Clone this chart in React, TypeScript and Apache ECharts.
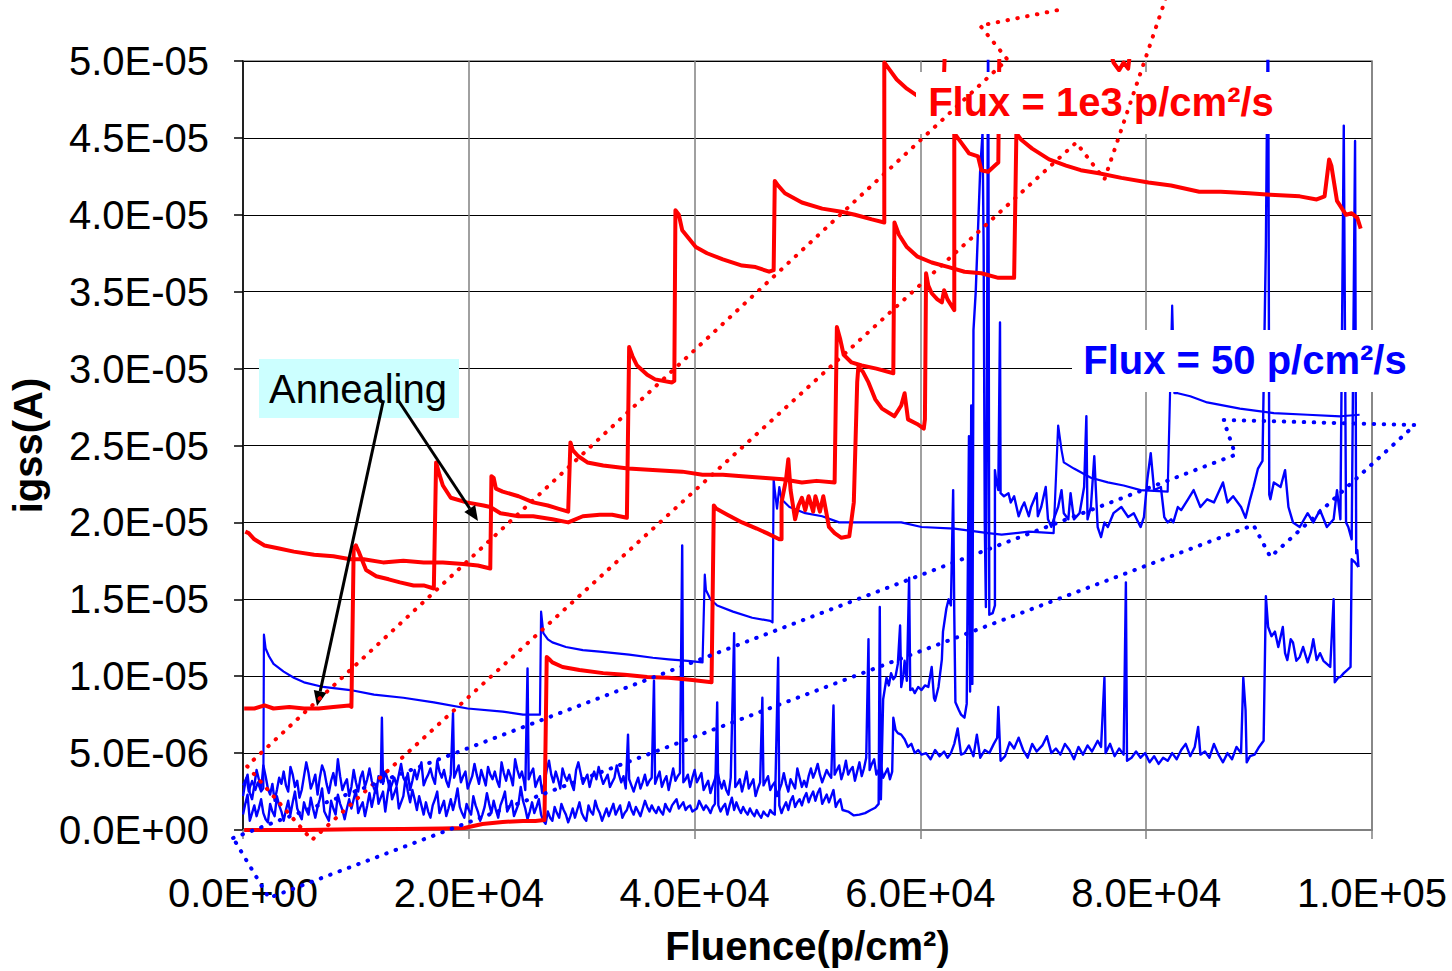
import React, { useEffect, useRef } from 'react';
import * as echarts from 'echarts';

// Units: fluence in 1e3 p/cm², current in 1e-6 A (formatted back to scientific notation on the axes)
const FONT = '"Liberation Sans", Arial, Helvetica, sans-serif';

// ---- Flux = 1e3 p/cm²/s devices (red) ----
const redA: number[][] = [
  [0.2,19.4],[0.5,19.3],[1.0,18.9],[1.9,18.5],[3.2,18.3],[4.5,18.1],[6.3,17.9],[8.0,17.8],[9.5,17.6],[10.7,17.6],[12.4,17.4],[14.2,17.5],[16.0,17.4],[17.7,17.4],[19.5,17.3],[20.8,17.2],[21.9,17.0],
  [22.0,23.0],[22.2,22.9],[22.4,22.2],[23.0,22.0],[24.4,21.7],[25.7,21.3],[27.0,21.1],[27.9,20.9],[28.8,20.7],
  [29.0,25.2],[29.2,24.7],[29.7,24.3],[30.5,23.9],[31.9,23.7],[34.1,23.5],[36.3,23.4],[38.9,23.3],[40.7,23.1],[42.5,23.1],[44.2,23.0],[46.0,22.9],[47.8,22.8],[49.5,22.6],[50.8,22.7],[52.4,22.6],
  [52.6,32.7],[52.9,31.9],[53.2,30.9],[53.9,30.4],[54.8,30.2],[56.1,30.0],[57.6,29.7],
  [57.7,39.5],[58.1,38.7],[58.8,37.9],[59.7,37.3],[61.0,36.9],[62.5,36.6],[63.9,36.3],[65.4,36.2],[66.9,35.9],[68.3,35.9],
  [68.5,45.3],[68.9,44.9],[69.9,44.3],[71.4,43.6],[72.9,43.2],[74.2,42.9],[75.8,42.7],[77.8,42.4],[80.2,42.1],[82.2,41.9],[84.7,41.5],[86.6,41.5],[89.1,41.4],[91.0,41.3],[93.6,41.2],[95.1,41.0],[95.8,41.2],[96.2,43.6],[96.4,43.2],[96.9,40.9],[97.7,40.0],[98.2,40.1],[98.7,39.8],[99.0,39.1]
];

const redB: number[][] = [
  [0.1,0.0],[5.4,0.0],[9.8,0.05],[14.2,0.07],[17.7,0.1],[19.6,0.13],[20.4,0.26],[21.2,0.39],[23.0,0.52],[24.8,0.59],[25.9,0.59],[26.7,0.65],
  [26.9,11.25],[27.2,11.05],[27.4,10.9],[28.3,10.6],[29.8,10.4],[31.9,10.2],[33.8,10.1],[35.8,9.95],[37.7,9.9],[39.8,9.75],[41.5,9.6],
  [41.7,21.1],[41.9,20.9],[42.9,20.5],[44.2,20.0],[45.5,19.6],[46.4,19.3],[47.5,18.9],[47.7,18.9],
  [47.7,21.3],[48.1,22.8],[48.3,24.1],[48.5,22.1],[48.9,20.2],[49.2,21.1],[49.5,21.6],[49.8,20.8],[50.1,21.7],[50.5,20.7],[50.7,21.7],[51.1,20.7],[51.4,21.7],[51.9,19.7],[52.4,19.3],[53.0,19.0],[53.7,19.1],[54.1,21.3],
  [54.4,29.1],[54.5,30.1],[54.9,29.8],[55.4,29.1],[56.0,28.0],[56.6,27.4],[57.7,26.9],[58.3,27.6],[58.6,28.4],[58.9,26.7],[59.7,26.4],[60.3,26.1],[60.4,26.7],
  [60.5,36.2],[60.7,35.4],[61.0,34.9],[61.5,34.5],[61.9,34.3],[62.1,35.1],[62.4,34.5],[63.0,33.8],
  [63.0,45.3],[63.4,44.9],[64.3,44.0],[65.1,43.8],[65.4,42.9],[66.0,42.8],[66.6,43.2],[66.9,43.4],
  [67.0,51.4],[71.6,53.0],[75.9,52.7]
];

const redC: number[][] = [
  [0.1,7.9],[1.0,7.9],[1.9,8.1],[2.7,7.9],[4.1,8.0],[5.4,7.9],[6.7,7.9],[8.0,8.0],[9.4,8.1],[9.6,8.0],
  [9.8,18.3],[10.0,18.5],[10.3,18.0],[10.9,16.9],[11.8,16.5],[12.9,16.3],[13.9,16.1],[15.1,15.9],[16.0,15.9],[16.9,15.7],
  [17.1,23.9],[17.4,23.1],[17.7,22.4],[18.4,21.6],[19.8,21.3],[21.3,21.1],[21.9,21.0],[22.8,20.6],[24.4,20.4],[25.7,20.4],[27.4,20.2],[28.8,20.0],[30.1,20.4],[31.6,20.5],[32.7,20.5],[34.0,20.3],
  [34.2,31.4],[34.5,30.8],[34.9,30.2],[35.8,29.6],[36.5,29.3],[38.0,29.1],[38.2,29.2],
  [38.3,40.3],[38.6,40.0],[38.9,39.0],[40.1,37.9],[41.1,37.5],[42.5,37.1],[44.2,36.7],[45.4,36.6],[46.6,36.3],[47.0,36.4],
  [47.1,42.2],[47.4,41.9],[48.0,41.4],[49.5,40.8],[51.3,40.4],[53.0,40.2],[54.2,40.0],[55.7,39.7],[56.8,39.5],
  [56.8,49.9],[57.2,49.5],[57.9,48.8],[58.8,48.2],[59.8,47.7],[61.0,47.3],[62.0,47.1],
  [62.2,51.4],[67.2,52.7],[76.4,52.0],[77.1,49.9],[77.6,49.4],[78.0,49.9],[78.4,49.5],[78.7,51.4],[84.8,52.7],[99.0,53.0]
];

// ---- Flux = 50 p/cm²/s devices (blue) ----
const blueA: number[][] = [
  [0.0,2.9],[0.3,3.4],[0.5,2.5],[0.8,3.2],[1.1,2.6],[1.3,3.1],[1.6,2.5],[1.8,2.7],
  [1.85,12.7],[2.0,11.8],[2.3,11.3],[2.7,10.8],[3.6,10.3],[4.5,9.9],[5.4,9.6],[7.1,9.3],[9.5,9.1],[11.6,8.8],[14.2,8.6],[16.9,8.3],[19.9,7.9],[23.0,7.7],[24.8,7.5],[26.3,7.5],
  [26.4,14.2],[26.6,12.8],[27.0,12.4],[27.4,12.2],[28.6,11.9],[30.1,11.7],[31.6,11.6],[34.2,11.4],[36.3,11.2],[37.7,11.1],[39.4,11.0],[40.7,10.9],
  [40.9,16.6],[41.0,15.6],[41.4,15.0],[42.0,14.6],[43.4,14.2],[45.1,13.8],[46.7,13.6],[46.9,13.5],
  [47.0,22.8],[47.1,22.1],[47.3,20.9],[47.5,22.3],[47.7,21.5],[48.4,21.0],[49.8,20.6],[51.3,20.4],[52.8,20.0],[54.2,20.0],[57.2,20.0],[58.3,20.0],[60.1,19.7],[63.0,19.6],[66.0,19.3],[67.2,19.2],[69.6,19.4],[71.8,19.3],
  [72.2,26.3],[72.5,24.7],[72.7,23.9],[73.6,23.5],[75.1,22.9],[76.6,22.6],[78.0,22.4],[79.5,22.1],[81.9,22.0],
  [82.3,34.1],[82.5,28.4],[82.8,28.4],[83.9,28.2],[85.4,27.8],[88.3,27.4],[91.3,27.1],[94.3,27.0],[97.2,26.9],[98.9,27.0]
];

const blueB: number[][] = [
  [0,2.2],[0.2,3.1],[0.4,3.6],[0.6,2.4],[0.8,2.0],[1.0,2.9],[1.2,3.9],[1.4,3.3],[1.6,2.6],[1.8,4.2],[2.0,3.5],[2.2,2.7],[2.4,2.3],[2.6,3.0],[2.8,1.9],[3.0,2.6],[3.2,3.4],[3.4,3.0],[3.6,3.8],[3.8,2.9],
  [4.0,2.5],[4.2,4.1],[4.4,3.6],[4.6,2.8],[4.8,3.2],[5.0,2.1],[5.2,2.6],[5.4,3.5],[5.6,4.4],[5.8,3.7],[6.0,2.7],[6.2,3.1],[6.4,3.6],[6.6,2.3],[6.8,3.4],[7.0,4.2],[7.2,3.8],[7.4,3.0],[7.6,2.4],[7.8,3.2],
  [8.0,3.7],[8.2,2.9],[8.4,4.6],[8.6,3.5],[8.8,2.6],[9.0,3.0],[9.2,3.3],[9.4,2.2],[9.6,2.8],[9.8,3.9],[10.0,3.1],[10.2,2.5],[10.4,3.4],[10.6,3.8],[10.8,2.8],[11.0,3.3],[11.2,4.0],[11.4,3.2],[11.6,2.7],[11.8,2.4],
  [12.0,3.5],[12.2,3.1],[12.3,7.3],[12.4,3.0],[12.6,3.8],[12.8,3.3],[13.0,2.6],[13.2,3.0],[13.4,3.4],[13.6,2.9],[13.8,3.6],[14.0,4.3],[14.2,3.4],[14.4,3.1],[14.6,3.7],[14.8,2.6],[15.0,3.2],[15.2,3.9],[15.4,3.3],[15.6,3.9],
  [15.8,4.4],[16.0,2.9],[16.2,3.3],[16.4,3.6],[16.6,4.0],[16.8,3.4],[17.0,3.0],[17.2,4.5],[17.4,3.8],[17.6,3.4],[17.8,3.9],[18.0,3.2],[18.2,2.8],[18.4,3.6],[18.6,7.6],[18.7,3.4],[18.9,3.8],[19.1,4.2],[19.3,3.1],[19.5,3.5],
  [19.7,3.8],[19.9,2.7],[20.1,3.1],[20.3,3.5],[20.5,4.3],[20.7,3.6],[20.9,3.0],[21.1,3.9],[21.3,3.4],[21.5,2.9],[21.7,4.1],[21.9,3.6],[22.1,3.3],[22.3,3.8],[22.5,3.2],[22.7,2.8],[22.9,4.4],[23.1,3.7],[23.3,3.2],[23.5,3.9],
  [23.7,3.5],[23.9,2.9],[24.1,4.6],[24.3,3.9],[24.5,3.4],[24.7,3.8],[24.9,3.1],[25.0,2.6],[25.2,10.5],[25.3,3.3],[25.5,3.7],[25.7,4.0],[25.9,2.8],[26.1,3.2],[26.3,3.5],[26.5,2.4],[26.7,3.1],[26.9,3.9],[27.1,4.5],[27.3,3.6],
  [27.5,3.1],[27.7,3.8],[27.9,3.3],[28.1,2.7],[28.3,4.0],[28.5,3.5],[28.7,3.2],[28.9,3.6],[29.1,3.0],[29.3,2.6],[29.5,3.9],[29.7,4.4],[29.9,3.7],[30.1,3.0],[30.3,3.3],[30.5,3.6],[30.7,2.8],[30.9,3.4],[31.1,3.8],[31.3,3.3],
  [31.5,4.1],[31.7,3.5],[31.9,3.0],[32.1,3.3],[32.3,3.6],[32.5,2.8],[32.7,3.1],[32.9,3.4],[33.1,4.2],[33.3,3.6],[33.5,3.1],[33.7,3.5],[33.9,2.7],[34.1,6.2],[34.2,3.3],[34.4,2.9],[34.6,2.5],[34.8,3.0],[35.0,3.4],[35.2,2.7],
  [35.4,3.1],[35.6,3.6],[35.8,2.9],[36.0,3.2],[36.2,3.4],[36.4,9.7],[36.5,3.0],[36.7,3.4],[36.9,3.8],[37.1,2.8],[37.3,3.2],[37.5,3.5],[37.7,2.6],[37.9,3.3],[38.1,4.0],[38.3,3.2],[38.5,3.5],[38.7,3.7],[38.9,18.5],[39.0,3.1],
  [39.2,3.3],[39.4,3.6],[39.6,2.8],[39.8,3.4],[40.0,3.9],[40.2,3.1],[40.4,3.4],[40.6,3.7],[40.8,2.6],[41.0,2.9],[41.2,3.2],[41.4,2.4],[41.6,2.9],[41.8,3.3],[42.0,3.9],[42.2,3.2],[42.4,2.7],[42.6,3.2],[42.8,2.6],[43.0,2.3],
  [43.2,3.4],[43.5,12.8],[43.6,2.8],[43.8,3.0],[44.0,3.3],[44.2,2.5],[44.4,3.1],[44.6,3.8],[44.8,2.7],[45.0,3.0],[45.2,3.3],[45.4,2.2],[45.6,2.7],[45.8,3.1],[46.0,8.6],[46.1,2.9],[46.3,3.2],[46.5,3.5],[46.7,2.6],[46.9,2.9],
  [47.1,3.1],[47.3,2.2],[47.5,2.6],[47.7,3.0],[47.9,3.7],[48.1,3.0],[48.3,2.5],[48.5,3.3],[48.7,3.0],[48.9,2.7],[49.1,4.0],[49.3,3.4],[49.5,2.8],[49.7,3.2],[49.9,2.8],[50.1,3.5],[50.3,4.0],[50.5,3.4],[50.7,3.8],[50.9,4.3],
  [51.1,3.6],[51.3,3.1],[51.5,3.5],[51.7,3.9],[51.9,3.6],[52.1,3.4],[52.3,8.1],[52.4,3.6],[52.6,3.9],[52.8,4.2],[53.0,3.3],[53.2,3.8],[53.4,4.5],[53.6,3.6],[53.8,3.9],[54.0,4.1],[54.2,3.2],[54.4,3.8],[54.6,4.4],[54.8,3.5],
  [55.0,4.0],[55.2,4.7],[55.4,12.4],[55.5,3.9],[55.7,4.3],[55.9,4.6],[56.1,3.6],[56.3,3.9],[56.5,4.2],[56.7,3.4],[56.9,3.7],[57.1,4.0],[57.3,3.3],[57.5,3.8],
  [57.6,7.3],[57.8,6.5],[58.0,6.3],[58.3,6.2],[58.6,5.9],[58.9,5.4],[59.2,5.6],[59.5,5.0],[59.8,5.2],[60.1,4.9],[60.5,5.0],[60.9,4.6],[61.3,5.2],[61.7,4.8],[62.1,5.1],[62.4,4.7],[62.7,5.0],[63.0,5.6],[63.3,6.6],[63.6,4.9],
  [63.9,5.0],[64.3,5.5],[64.7,4.8],[65.0,6.2],[65.3,4.7],[65.7,5.2],[66.1,5.0],[66.5,5.6],[66.8,6.0],[66.9,8.0],[67.1,4.5],[67.5,4.8],[67.9,5.7],[68.3,5.3],[68.7,6.0],[69.1,5.2],[69.5,4.7],[69.9,5.6],[70.3,5.1],[70.8,5.5],
  [71.2,6.1],[71.6,5.0],[72.0,5.3],[72.4,4.9],[72.8,5.6],[73.2,5.2],[73.6,4.6],[74.0,5.4],[74.4,4.9],[74.8,5.5],[75.2,5.1],[75.7,5.8],[76.0,5.4],[76.3,9.9],[76.4,5.0],[76.8,5.6],[77.2,4.8],[77.6,5.3],[78.0,4.9],[78.2,16.1],
  [78.3,4.5],[78.7,4.7],[79.1,5.1],[79.5,4.7],[79.9,5.0],[80.3,4.4],[80.7,4.8],[81.1,4.3],[81.5,4.7],[81.9,4.5],[82.3,5.0],[82.7,4.6],[83.1,5.2],[83.5,5.6],[83.9,4.8],[84.3,5.4],[84.6,6.7],[84.8,4.9],[85.2,5.1],[85.6,4.7],
  [86.0,5.6],[86.4,4.9],[86.8,4.4],[87.2,5.0],[87.6,4.6],[88.0,5.4],[88.4,5.0],[88.6,9.9],[88.8,7.8],[88.9,4.4],[89.2,4.8],[89.6,4.9],[90.0,5.4],[90.4,5.8],
  [90.6,15.2],[90.8,13.2],[91.1,12.6],[91.4,12.9],[91.7,11.9],[92.1,13.2],[92.3,11.5],[92.5,11.05],[92.8,12.4],[93.0,12.2],[93.3,11.0],[93.6,11.25],[93.9,11.9],[94.3,10.9],[94.6,11.6],[94.8,12.4],[95.1,11.05],[95.4,11.5],[95.7,11.0],[96.0,10.8],
  [96.3,10.6],[96.6,15.0],[96.7,9.6],[97.0,9.9],[97.2,9.95],[97.5,10.2],[97.8,10.4],[98.1,10.6],[98.2,17.6],[98.5,17.4],[98.8,17.1]
];

const blueC: number[][] = [
  [0,1.0],[0.2,1.7],[0.4,2.3],[0.6,0.6],[0.8,1.1],[1.0,1.6],[1.2,0.9],[1.4,1.4],[1.6,2.0],[1.8,1.1],[2.0,0.7],[2.2,0.5],[2.4,1.7],[2.6,1.2],[2.8,0.9],[3.0,2.2],[3.2,1.6],[3.4,1.2],[3.6,0.6],[3.8,1.3],
  [4.0,1.9],[4.2,1.0],[4.4,1.8],[4.6,2.5],[4.8,1.4],[5.0,1.0],[5.2,0.7],[5.4,1.8],[5.6,1.3],[5.8,1.0],[6.0,2.1],[6.2,1.4],[6.4,0.8],[6.6,1.5],[6.8,2.0],[7.0,2.7],[7.2,1.2],[7.4,0.9],[7.6,0.6],[7.8,1.9],
  [8.0,1.4],[8.2,1.0],[8.4,2.3],[8.6,1.7],[8.8,1.3],[9.0,0.7],[9.2,1.4],[9.4,2.0],[9.6,1.4],[9.8,2.0],[10.0,2.6],[10.2,1.1],[10.4,1.5],[10.6,1.8],[10.8,0.9],[11.0,1.6],[11.2,2.4],[11.4,1.5],[11.6,2.2],[11.8,3.0],
  [12.0,1.7],[12.2,2.1],[12.4,2.5],[12.6,1.2],[12.8,2.3],[13.0,3.2],[13.2,2.0],[13.4,2.4],[13.6,2.8],[13.8,1.4],[14.0,1.8],[14.2,2.2],[14.4,3.4],[14.6,2.5],[14.8,1.8],[15.0,2.6],[15.2,2.0],[15.4,1.3],[15.6,2.2],[15.8,1.6],
  [16.0,1.0],[16.2,1.8],[16.4,1.2],[16.6,0.8],[16.8,1.6],[17.0,2.0],[17.2,2.5],[17.4,1.1],[17.6,1.5],[17.8,1.9],[18.0,0.9],[18.2,1.4],[18.4,2.0],[18.6,1.3],[18.8,1.9],[19.0,2.7],[19.2,1.5],[19.4,1.1],[19.6,0.8],[19.8,1.7],
  [20.0,1.3],[20.2,1.0],[20.4,2.2],[20.6,1.6],[20.8,1.2],[21.0,0.6],[21.2,1.0],[21.4,1.5],[21.6,2.4],[21.8,1.7],[22.0,1.1],[22.2,1.9],[22.4,1.3],[22.6,0.8],[22.8,1.6],[23.0,2.0],[23.2,2.5],[23.4,1.2],[23.6,1.5],[23.8,1.9],
  [24.0,0.9],[24.2,1.3],[24.4,1.7],[24.6,2.8],[24.8,1.9],[25.0,1.4],[25.2,0.7],[25.4,1.2],[25.6,1.8],[25.8,1.1],[26.0,1.5],[26.2,2.0],[26.4,1.0],[26.6,0.6],[26.8,0.4],[27.0,1.2],[27.2,0.8],[27.4,0.6],[27.6,1.5],[27.8,1.1],
  [28.0,0.8],[28.2,1.7],[28.4,1.3],[28.6,1.0],[28.8,0.5],[29.0,0.9],[29.2,1.4],[29.4,0.8],[29.6,1.3],[29.8,1.8],[30.0,1.1],[30.2,0.8],[30.4,0.6],[30.6,1.6],[30.8,1.2],[31.0,1.0],[31.2,1.9],[31.4,1.4],[31.6,1.1],[31.8,0.6],
  [32.0,1.0],[32.2,1.4],[32.4,0.9],[32.6,1.3],[32.8,1.7],[33.0,1.0],[33.2,1.3],[33.4,1.6],[33.6,0.8],[33.8,1.1],[34.0,1.3],[34.2,1.8],[34.4,1.3],[34.6,1.0],[34.8,1.5],[35.0,1.2],[35.2,0.9],[35.4,1.4],[35.6,1.9],[35.8,1.5],
  [36.0,1.2],[36.2,1.6],[36.4,1.3],[36.6,1.1],[36.8,1.5],[37.0,1.2],[37.2,1.0],[37.4,1.7],[37.6,1.4],[37.8,1.2],[38.0,1.6],[38.2,1.8],[38.4,2.0],[38.6,1.4],[38.8,1.6],[39.0,1.8],[39.2,1.3],[39.4,1.5],[39.6,1.6],[39.8,1.2],
  [40.0,1.3],[40.2,1.4],[40.4,1.9],[40.6,1.6],[40.8,1.3],[41.0,1.6],[41.2,1.4],[41.4,1.1],[41.6,1.5],[41.8,1.7],[42.0,8.3],[42.1,1.6],[42.3,1.2],[42.5,1.5],[42.7,1.7],[42.9,1.0],[43.1,1.6],[43.3,2.1],[43.5,1.3],[43.7,1.8],
  [43.9,1.4],[44.1,1.1],[44.3,1.5],[44.5,1.2],[44.7,1.0],[44.9,1.4],[45.1,1.1],[45.3,0.9],[45.5,1.3],[45.7,1.0],[45.9,0.8],[46.1,1.2],[46.3,1.0],[46.5,0.9],[46.7,1.3],[46.9,1.1],[47.1,1.0],[47.4,11.2],[47.5,1.6],[47.7,1.1],
  [47.9,1.5],[48.1,1.8],[48.3,1.3],[48.5,1.9],[48.7,2.2],[48.9,1.5],[49.1,1.8],[49.3,2.0],[49.5,1.6],[49.7,2.1],[49.9,2.4],[50.1,1.8],[50.3,2.2],[50.5,2.5],[50.7,1.9],[50.9,2.4],[51.1,2.7],[51.3,1.7],[51.5,2.0],[51.7,2.3],
  [51.9,1.8],[52.1,2.2],[52.3,2.6],[52.5,1.5],[52.7,1.8],[52.9,2.0],[53.1,1.3],
  [53.6,1.2],[54.1,0.95],[54.6,1.0],[55.1,1.1],[55.6,1.3],[56.0,1.45],[56.3,1.7],[56.4,14.5],[56.5,2.0],
  [56.7,8.5],[57.0,9.9],[57.2,9.4],[57.4,10.2],[57.6,9.8],[57.8,10.0],[58.0,10.8],[58.2,13.3],[58.3,9.3],[58.5,10.1],[58.6,11.0],[58.8,9.7],[59.0,16.4],[59.1,9.1],[59.3,9.2],[59.5,8.9],[59.8,9.3],[60.1,9.1],[60.4,9.4],[60.7,9.3],
  [61.0,10.6],[61.2,8.6],[61.3,8.4],[61.6,9.3],[61.9,11.1],[62.0,12.9],[62.3,14.4],[62.5,15.0],[62.7,14.6],[62.9,22.1],[63.0,14.0],[63.1,8.3],[63.4,7.8],[63.6,7.5],[63.9,7.3],[64.1,8.2],[64.3,25.6],[64.4,9.0],[64.5,27.6],[64.6,9.5],
  [64.7,32.5],[64.9,35.0],[65.1,39.0],[65.3,43.0],[65.5,45.3],[65.6,38.0],[65.7,20.0],[65.8,14.5],[65.9,30.0],[66.0,55.0],[66.1,14.0],[66.4,14.1],[66.6,14.6],
  [66.6,23.4],[66.7,22.8],[66.9,22.1],[67.05,33.0],[67.1,21.9],[67.4,21.7],[67.8,21.9],[68.0,21.3],[68.3,21.7],[68.7,20.4],[69.0,21.0],[69.2,21.3],[69.6,20.4],[69.8,21.0],[70.3,21.9],[70.4,20.4],[70.7,21.0],[71.1,22.3],[71.3,20.2],[71.6,19.7],
  [71.8,20.2],[72.2,21.0],[72.5,22.1],[72.7,20.6],[73.1,20.2],[73.3,21.9],[73.6,20.2],[74.1,20.6],[74.5,22.3],[74.7,26.9],[74.8,20.2],[75.1,21.0],[75.4,24.3],[75.7,19.7],[76.0,19.05],[76.3,20.0],[76.6,19.7],[77.1,20.6],[77.8,21.0],[78.4,20.35],
  [78.9,20.6],[79.5,19.7],[79.8,20.35],[80.1,22.8],[80.4,24.5],[80.7,22.1],[81.3,22.3],[81.6,20.35],[81.9,20.0],[82.2,20.2],[82.4,20.0],[82.8,21.0],[83.1,20.8],[83.7,21.5],[84.2,22.1],[84.8,21.0],[85.4,21.5],[86.0,21.3],[86.8,22.6],[87.2,21.3],
  [87.7,21.7],[88.4,21.0],[88.8,20.3],[89.2,21.5],[89.5,22.3],[89.9,23.5],[90.3,24.0],[90.6,38.0],[90.8,55.0],[90.9,21.8],[91.0,21.5],[91.3,22.6],[91.9,22.3],[92.3,23.4],[92.6,21.0],[93.0,20.0],[93.6,19.7],[94.3,20.6],[94.8,20.0],[95.4,20.8],
  [96.0,19.7],[96.6,20.2],[96.9,22.1],[97.2,20.2],[97.5,45.8],[97.7,20.0],[97.9,19.7],[98.2,18.9],[98.5,44.8],[98.6,18.0],[98.7,18.2],[98.8,17.1]
];

// ---- dotted trend outlines (data units; they run past the plot area) ----
const redTrend: number[][] = [
  [72.1,53.3],[65.3,52.3],[67.7,50.1],[0.35,4.16],[6.1,-0.65],[73.8,44.7],[76.3,42.3],[82.3,55.3]
];
const blueTrend: number[][] = [
  [-0.88,-0.52],[87.9,24.4],[86.85,26.66],[103.8,26.33],[91.0,17.75],[89.5,19.83],[2.29,-4.42],[-0.88,-0.52]
];

const xRange = { min: 0, max: 100, interval: 20 };
const yRange = { min: 0, max: 50, interval: 5 };

function fmtE(v: number, scale: number): string {
  const val = v * scale;
  if (Math.abs(val) < 1e-30) return '0.0E+00';
  let exp = Math.floor(Math.log10(Math.abs(val)) + 1e-9);
  let m = val / Math.pow(10, exp);
  if (Math.abs(m) >= 9.95) { m /= 10; exp += 1; }
  const sign = exp < 0 ? '-' : '+';
  return m.toFixed(1) + 'E' + sign + String(Math.abs(exp)).padStart(2, '0');
}

function line(data: number[][], color: string, width: number, z: number) {
  return {
    type: 'line', data, showSymbol: false, symbol: 'none', silent: true, z,
    lineStyle: { color, width, join: 'round' }, itemStyle: { color },
  };
}

function arrowHead(tip: number[], from: number[], len: number, half: number) {
  const dx = tip[0] - from[0], dy = tip[1] - from[1];
  const d = Math.hypot(dx, dy);
  const ux = dx / d, uy = dy / d;
  const bx = tip[0] - ux * len, by = tip[1] - uy * len;
  const px = -uy, py = ux;
  return { base: [bx, by], pts: [tip, [bx + px * half, by + py * half], [bx - px * half, by - py * half]] };
}

export default function App() {
  const ref = useRef<HTMLDivElement>(null);
  useEffect(() => {
    if (!ref.current) return;
    const chart = echarts.init(ref.current, null, { renderer: 'svg' });
    const option: any = {
      animation: false,
      backgroundColor: '#ffffff',
      grid: { left: 239, top: 61, right: 80, bottom: 141, show: true, borderColor: '#808080', borderWidth: 1.5 },
      xAxis: {
        type: 'value', ...xRange,
        name: 'Fluence(p/cm²)', nameLocation: 'middle', nameGap: 96,
        nameTextStyle: { fontFamily: FONT, fontSize: 40, fontWeight: 'bold', color: '#000' },
        axisLine: { show: true, lineStyle: { color: '#808080', width: 2 } },
        axisTick: { show: true, length: 9, lineStyle: { color: '#808080', width: 1.5 } },
        splitLine: { show: true, lineStyle: { color: '#808080', width: 1.5 } },
        axisLabel: { fontFamily: FONT, fontSize: 40, color: '#000', margin: 43, formatter: (v: number) => fmtE(v, 1e3) },
      },
      yAxis: {
        type: 'value', ...yRange,
        name: 'igss(A)', nameLocation: 'middle', nameGap: 176, nameRotate: 90,
        nameTextStyle: { fontFamily: FONT, fontSize: 40, fontWeight: 'bold', color: '#000' },
        axisLine: { show: true, lineStyle: { color: '#000', width: 1.5 } },
        axisTick: { show: true, length: 9, lineStyle: { color: '#000', width: 1.5 } },
        splitLine: { show: true, lineStyle: { color: '#000', width: 1.2 } },
        axisLabel: { fontFamily: FONT, fontSize: 40, color: '#000', margin: 34, formatter: (v: number) => fmtE(v, 1e-6) },
      },
      series: [
        line(blueC, '#0000FF', 2.4, 2),
        line(blueB, '#0000FF', 2.4, 2),
        line(blueA, '#0000FF', 2.2, 2),
        line(redB, '#FF0000', 4, 3),
        line(redC, '#FF0000', 4, 3),
        line(redA, '#FF0000', 4, 3),
      ],
    };
    chart.setOption(option);

    // Trend outlines run beyond the plot area: map them through the axes' own scale (linearly extended)
    const p0 = chart.convertToPixel({ gridIndex: 0 }, [xRange.min, yRange.min]) as number[];
    const p1 = chart.convertToPixel({ gridIndex: 0 }, [xRange.max, yRange.max]) as number[];
    const toPx = (d: number[]) => [
      p0[0] + (d[0] - xRange.min) / (xRange.max - xRange.min) * (p1[0] - p0[0]),
      p0[1] + (d[1] - yRange.min) / (yRange.max - yRange.min) * (p1[1] - p0[1]),
    ];
    const dottedPoly = (data: number[][], color: string) => ({
      type: 'polyline', z: 20, silent: true,
      shape: { points: data.map(toPx) },
      style: { stroke: color, lineWidth: 4, lineDash: [0.5, 9.5], lineCap: 'round', fill: null },
    });

    const a1 = arrowHead([317, 706], [383, 402], 15, 6.5);
    const a2 = arrowHead([478, 521], [398, 400], 15, 6.5);
    chart.setOption({
      graphic: [
        { type: 'rect', z: 10, shape: { x: 259, y: 359, width: 200, height: 59 }, style: { fill: '#CCFFFF' } },
        { type: 'text', z: 11, style: { text: 'Annealing', x: 358, y: 389, fill: '#000', fontSize: 40, fontFamily: FONT, align: 'center', verticalAlign: 'middle' } },
        { type: 'line', z: 12, shape: { x1: 383, y1: 402, x2: a1.base[0], y2: a1.base[1] }, style: { stroke: '#000', lineWidth: 3 } },
        { type: 'polygon', z: 12, shape: { points: a1.pts }, style: { fill: '#000' } },
        { type: 'line', z: 12, shape: { x1: 398, y1: 400, x2: a2.base[0], y2: a2.base[1] }, style: { stroke: '#000', lineWidth: 3 } },
        { type: 'polygon', z: 12, shape: { points: a2.pts }, style: { fill: '#000' } },
        { type: 'rect', z: 10, shape: { x: 916, y: 72, width: 366, height: 62 }, style: { fill: '#FFFFFF' } },
        { type: 'text', z: 11, style: { text: 'Flux = 1e3 p/cm²/s', x: 1101, y: 102, fill: '#FF0000', fontSize: 40, fontWeight: 'bold', fontFamily: FONT, align: 'center', verticalAlign: 'middle' } },
        { type: 'rect', z: 10, shape: { x: 1072, y: 330, width: 350, height: 62 }, style: { fill: '#FFFFFF' } },
        { type: 'text', z: 11, style: { text: 'Flux = 50 p/cm²/s', x: 1245, y: 360, fill: '#0000FF', fontSize: 40, fontWeight: 'bold', fontFamily: FONT, align: 'center', verticalAlign: 'middle' } },
        dottedPoly(redTrend, '#FF0000'),
        dottedPoly(blueTrend, '#0000FF'),
      ],
    });
    return () => chart.dispose();
  }, []);
  return <div ref={ref} style={{ position: 'absolute', left: 0, top: 0, width: 1452, height: 971 }} />;
}
